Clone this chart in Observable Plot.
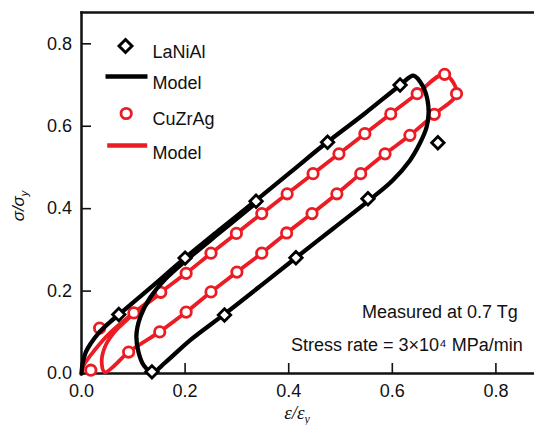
<!DOCTYPE html>
<html><head><meta charset="utf-8">
<script src="https://cdn.jsdelivr.net/npm/d3@7"></script>
<script src="https://cdn.jsdelivr.net/npm/@observablehq/plot@0.6"></script>
<style>
body{margin:0;background:#fff;}
#chart{width:534px;height:425px;}
</style></head><body><div id="chart"></div>
<script>
// ---- data ----
const xTicks = [0, 0.2, 0.4, 0.6, 0.8];
const yTicks = [0, 0.2, 0.4, 0.6, 0.8];

const lanialStrain = [0.072, 0.200, 0.337, 0.475, 0.615, 0.688, 0.553, 0.414, 0.276, 0.136];
const lanialStress = [0.143, 0.280, 0.418, 0.561, 0.700, 0.560, 0.424, 0.281, 0.142, 0.004];

const cuzragStrain = [0.018, 0.035, 0.101, 0.153, 0.202, 0.250, 0.299, 0.348, 0.397, 0.447, 0.497, 0.547, 0.597, 0.648, 0.701, 0.724,
  0.681, 0.634, 0.586, 0.539, 0.493, 0.445, 0.396, 0.348, 0.300, 0.250, 0.202, 0.151, 0.091];
const cuzragStress = [0.008, 0.110, 0.147, 0.197, 0.243, 0.292, 0.340, 0.388, 0.436, 0.485, 0.533, 0.582, 0.630, 0.679, 0.726, 0.679,
  0.629, 0.578, 0.533, 0.485, 0.436, 0.388, 0.341, 0.292, 0.246, 0.198, 0.149, 0.101, 0.052];

const lanialModelStrain = [0, 0.0025, 0.0083, 0.018, 0.033, 0.0525, 0.072, 0.133, 0.2007, 0.268, 0.335, 0.403, 0.474, 0.547, 0.6145, 0.641,
  0.659, 0.668, 0.670, 0.666, 0.653, 0.634, 0.601, 0.557, 0.486, 0.414, 0.345, 0.276, 0.210, 0.162, 0.137,
  0.120, 0.110, 0.106, 0.114, 0.133, 0.162, 0.2007, 0.268, 0.339];
const lanialModelStress = [0, 0.027, 0.052, 0.073, 0.098, 0.122, 0.143, 0.208, 0.281, 0.350, 0.418, 0.488, 0.561, 0.631, 0.699, 0.723,
  0.697, 0.663, 0.631, 0.597, 0.558, 0.517, 0.469, 0.422, 0.352, 0.281, 0.212, 0.144, 0.081, 0.027, 0.003,
  0.020, 0.052, 0.093, 0.139, 0.185, 0.229, 0.273, 0.343, 0.416];

const cuzragModelStrain = [0, 0.0044, 0.0256, 0.0545, 0.1007, 0.1526, 0.2017, 0.2502, 0.2989, 0.348, 0.397, 0.447, 0.497, 0.547, 0.597, 0.648, 0.701, 0.724,
  0.681, 0.634, 0.586, 0.539, 0.493, 0.445, 0.396, 0.348, 0.300, 0.250, 0.202, 0.1507, 0.091, 0.060, 0.045,
  0.039, 0.045, 0.062, 0.081, 0.1007, 0.1526];
const cuzragModelStress = [0, 0.020, 0.057, 0.098, 0.147, 0.197, 0.243, 0.292, 0.340, 0.388, 0.436, 0.485, 0.533, 0.582, 0.630, 0.679, 0.726, 0.679,
  0.629, 0.578, 0.533, 0.485, 0.436, 0.388, 0.341, 0.292, 0.246, 0.198, 0.149, 0.101, 0.052, 0.015, 0.003,
  0.027, 0.064, 0.098, 0.122, 0.144, 0.194];

const legendLabels = ["LaNiAl", "Model", "CuZrAg", "Model"];
const noteLines = ["Measured at 0.7 Tg", "Stress rate = 3×10⁴ MPa/min"];
const xLabel = ["ε/ε", "y"];
const yLabel = ["σ/σ", "y"];

// ---- build tables ----
const zip = (xs, ys) => xs.map((x, i) => ({x, y: ys[i]}));
const lanial = zip(lanialStrain, lanialStress);
const cuzrag = zip(cuzragStrain, cuzragStress);
const lanialModel = zip(lanialModelStrain, lanialModelStress);
const cuzragModel = zip(cuzragModelStrain, cuzragModelStress);

const RED = "#ec1c24";
const INK = "#111";
const hline = (half) => ({draw(ctx) { ctx.moveTo(-half, 0); ctx.lineTo(half, 0); }});

const plot = Plot.plot({
  width: 534, height: 425,
  marginLeft: 81, marginRight: 0, marginTop: 12, marginBottom: 52,
  style: {fontFamily: "'Liberation Sans', Arial, sans-serif", fontSize: "18px", color: INK, background: "#fff"},
  x: {domain: [0, 0.8745]},
  y: {domain: [0, 0.876]},
  marks: [
    Plot.axisX(xTicks, {tickSize: -10, tickPadding: 21, tickFormat: ".1f", strokeWidth: 1.6, fontSize: 18, label: null}),
    Plot.axisY(yTicks, {tickSize: -10, tickPadding: 19.5, tickFormat: ".1f", strokeWidth: 1.6, fontSize: 18, label: null}),
    Plot.frame({anchor: "top", stroke: INK, strokeWidth: 2.5}),
    Plot.frame({anchor: "left", stroke: INK, strokeWidth: 2.5}),
    Plot.frame({anchor: "bottom", stroke: INK, strokeWidth: 2.5}),
    Plot.line(cuzragModel, {x: "x", y: "y", curve: "catmull-rom", stroke: RED, strokeWidth: 3.8}),
    Plot.dot(cuzrag, {x: "x", y: "y", r: 5.2, fill: "white", stroke: RED, strokeWidth: 2.8}),
    Plot.line(lanialModel, {x: "x", y: "y", curve: "catmull-rom", stroke: "#000", strokeWidth: 4.3}),
    Plot.dot(lanial, {x: "x", y: "y", symbol: "diamond2", r: 5.6, fill: "white", stroke: "#000", strokeWidth: 2.8}),
    // legend
    Plot.dot([0], {frameAnchor: "top-left", dx: 44, dy: 33.5, symbol: "diamond2", r: 5.8, fill: "white", stroke: "#000", strokeWidth: 3}),
    Plot.dot([0], {frameAnchor: "top-left", dx: 45, dy: 64, symbol: hline(21), r: 5, fill: "none", stroke: "#000", strokeWidth: 4.3}),
    Plot.dot([0], {frameAnchor: "top-left", dx: 44.7, dy: 101, r: 5.2, fill: "white", stroke: RED, strokeWidth: 2.8}),
    Plot.dot([0], {frameAnchor: "top-left", dx: 45.7, dy: 133, symbol: hline(20), r: 5, fill: "none", stroke: RED, strokeWidth: 4.6}),
    Plot.text([legendLabels[0]], {text: d => d, frameAnchor: "top-left", dx: 71, dy: 32.5, textAnchor: "start", fontSize: 18, fill: INK}),
    Plot.text([legendLabels[1]], {text: d => d, frameAnchor: "top-left", dx: 71, dy: 63.5, textAnchor: "start", fontSize: 18, fill: INK}),
    Plot.text([legendLabels[2]], {text: d => d, frameAnchor: "top-left", dx: 71, dy: 100, textAnchor: "start", fontSize: 18, fill: INK}),
    Plot.text([legendLabels[3]], {text: d => d, frameAnchor: "top-left", dx: 71, dy: 133.5, textAnchor: "start", fontSize: 18, fill: INK}),
    // notes
    Plot.text([noteLines[0]], {text: d => d, frameAnchor: "bottom-right", dx: -16.7, dy: -56, textAnchor: "end", fontSize: 18, fill: INK}),
    Plot.text([noteLines[1]], {text: d => d, frameAnchor: "bottom-right", dx: -11.7, dy: -22.6, textAnchor: "end", fontSize: 18, fill: INK})
  ]
});
document.getElementById("chart").appendChild(plot);

// axis titles with subscripts
const svg = d3.select(plot);
const xt = svg.append("text")
  .attr("x", 297).attr("y", 419)
  .attr("text-anchor", "middle")
  .style("font-family", "'Liberation Serif', 'Times New Roman', serif")
  .style("font-style", "italic").style("font-size", "19px").attr("fill", INK);
xt.append("tspan").text(xLabel[0]);
xt.append("tspan").attr("dy", 4).style("font-size", "12px").text(xLabel[1]);

const yt = svg.append("text")
  .attr("transform", "translate(24,206) rotate(-90)")
  .attr("text-anchor", "middle")
  .style("font-family", "'Liberation Sans', Arial, sans-serif")
  .style("font-style", "italic").style("font-size", "17px").attr("fill", INK);
yt.append("tspan").text(yLabel[0]);
yt.append("tspan").attr("dy", 4).style("font-size", "11px").text(yLabel[1]);
</script>
</body></html>
